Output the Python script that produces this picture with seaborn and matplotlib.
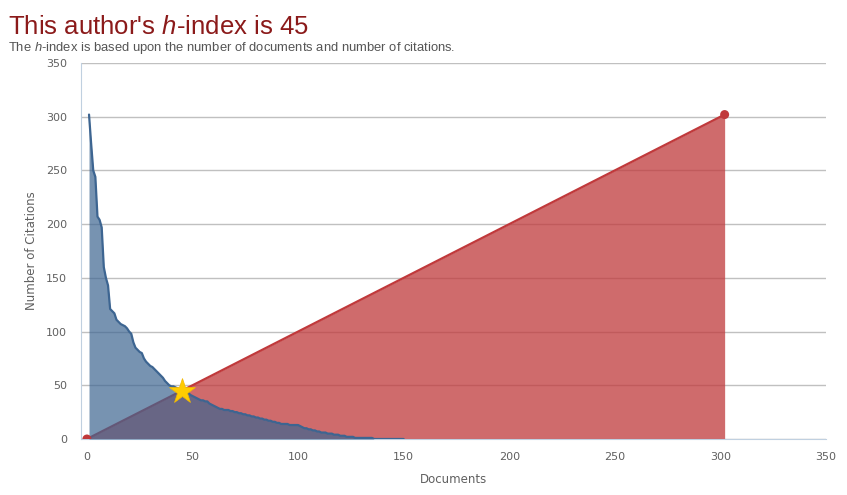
import matplotlib
matplotlib.use("Agg")
import matplotlib.pyplot as plt
import seaborn as sns
import numpy as np
import pandas as pd

# citations per document, sorted high to low (documents 1..150)
citations = [302, 275, 250, 244, 207, 204, 197, 160, 150, 143,
             121, 119, 117, 111, 109, 107, 106, 105, 103, 100,
             98, 90, 85, 83, 81, 80, 75, 72, 70, 68,
             67, 65, 63, 61, 59, 57, 54, 52, 50, 49,
             49, 48, 47, 46, 45, 45, 44, 43, 41, 40,
             39, 38, 37, 36, 36, 35, 35, 33, 32, 31,
             30, 29, 28, 28, 27, 27, 27, 26, 26, 25,
             25, 24, 24, 23, 23, 22, 22, 21, 21, 20,
             20, 19, 19, 18, 18, 17, 17, 16, 16, 15,
             15, 14, 14, 14, 14, 13, 13, 13, 13, 13,
             12, 11, 10, 10, 9, 9, 8, 8, 7, 7,
             6, 6, 6, 5, 5, 5, 4, 4, 4, 3,
             3, 3, 2, 2, 2, 2, 1, 1, 1, 1,
             1, 1, 1, 1, 1, 0, 0, 0, 0, 0,
             0, 0, 0, 0, 0, 0, 0, 0, 0, 0]
documents = list(range(1, len(citations) + 1))

h_index = 45
total_docs = 302
diag_x = [0, total_docs]
diag_y = [0, total_docs]

x_ticks = [0, 50, 100, 150, 200, 250, 300, 350]
y_ticks = [0, 50, 100, 150, 200, 250, 300, 350]

blue = "#3d6591"
red = "#c0393b"
grid_c = "#c0c0c0"
axis_c = "#c0d0e0"
text_c = "#606060"

sns.set_style("white")
plt.rcParams["font.family"] = ["DejaVu Sans"]
plt.rcParams["mathtext.fontset"] = "custom"
plt.rcParams["mathtext.rm"] = "Liberation Sans"
plt.rcParams["mathtext.it"] = "Liberation Sans:italic"

fig = plt.figure(figsize=(8.47, 4.95), dpi=100)
ax = fig.add_axes([81 / 847, 1 - 439 / 495, (826 - 81) / 847, (439 - 63) / 495])

df_cit = pd.DataFrame({"Documents": documents, "Citations": citations})
df_diag = pd.DataFrame({"x": diag_x, "y": diag_y})

# red triangle first, blue area over it
ax.fill_between(df_diag["x"], df_diag["y"], 0, color=red, alpha=0.75, lw=0, zorder=2)
sns.lineplot(data=df_diag, x="x", y="y", color=red, lw=1.6, ax=ax, zorder=3)

ax.fill_between(df_cit["Documents"], df_cit["Citations"], 0, color=blue, alpha=0.7, lw=0, zorder=4)
sns.lineplot(data=df_cit, x="Documents", y="Citations", color=blue, lw=1.6, ax=ax, zorder=5)

sns.scatterplot(x=diag_x, y=diag_y, color=red, s=42, edgecolor="none", ax=ax, zorder=6)
ax.plot([h_index], [h_index], marker="*", markersize=19, color="#ffcc00",
        markeredgecolor="#f2b800", markeredgewidth=0.5, zorder=7)

ax.set_xlim(-2.8, 350)
ax.set_ylim(0, 350)
ax.set_xticks(x_ticks)
ax.set_yticks(y_ticks)
ax.yaxis.grid(True, color=grid_c, lw=1)
ax.set_axisbelow(True)
for s in ["top", "right"]:
    ax.spines[s].set_visible(False)
ax.spines["left"].set_color(axis_c)
ax.spines["bottom"].set_color(axis_c)
ax.tick_params(axis="x", length=6, width=1, color=axis_c, labelsize=8, labelcolor=text_c, pad=3)
ax.tick_params(axis="y", length=0, labelsize=8, labelcolor=text_c, pad=10)

ax.set_xlabel("Documents", fontsize=8.5, color=text_c, labelpad=8)
ax.set_ylabel("Number of Citations", fontsize=8.5, color=text_c, labelpad=6)

fig.text(8 / 847, 1 - 34 / 495, "This author's $\\mathit{h}$-index is 45",
         fontsize=18.5, color="#8b1a1a", family="Liberation Sans")
fig.text(8 / 847, 1 - 51 / 495,
         "The $\\mathit{h}$-index is based upon the number of documents and number of citations.",
         fontsize=9.4, color="#555555", family="Liberation Sans")

plt.savefig("out.png", dpi=100)
plt.close()
